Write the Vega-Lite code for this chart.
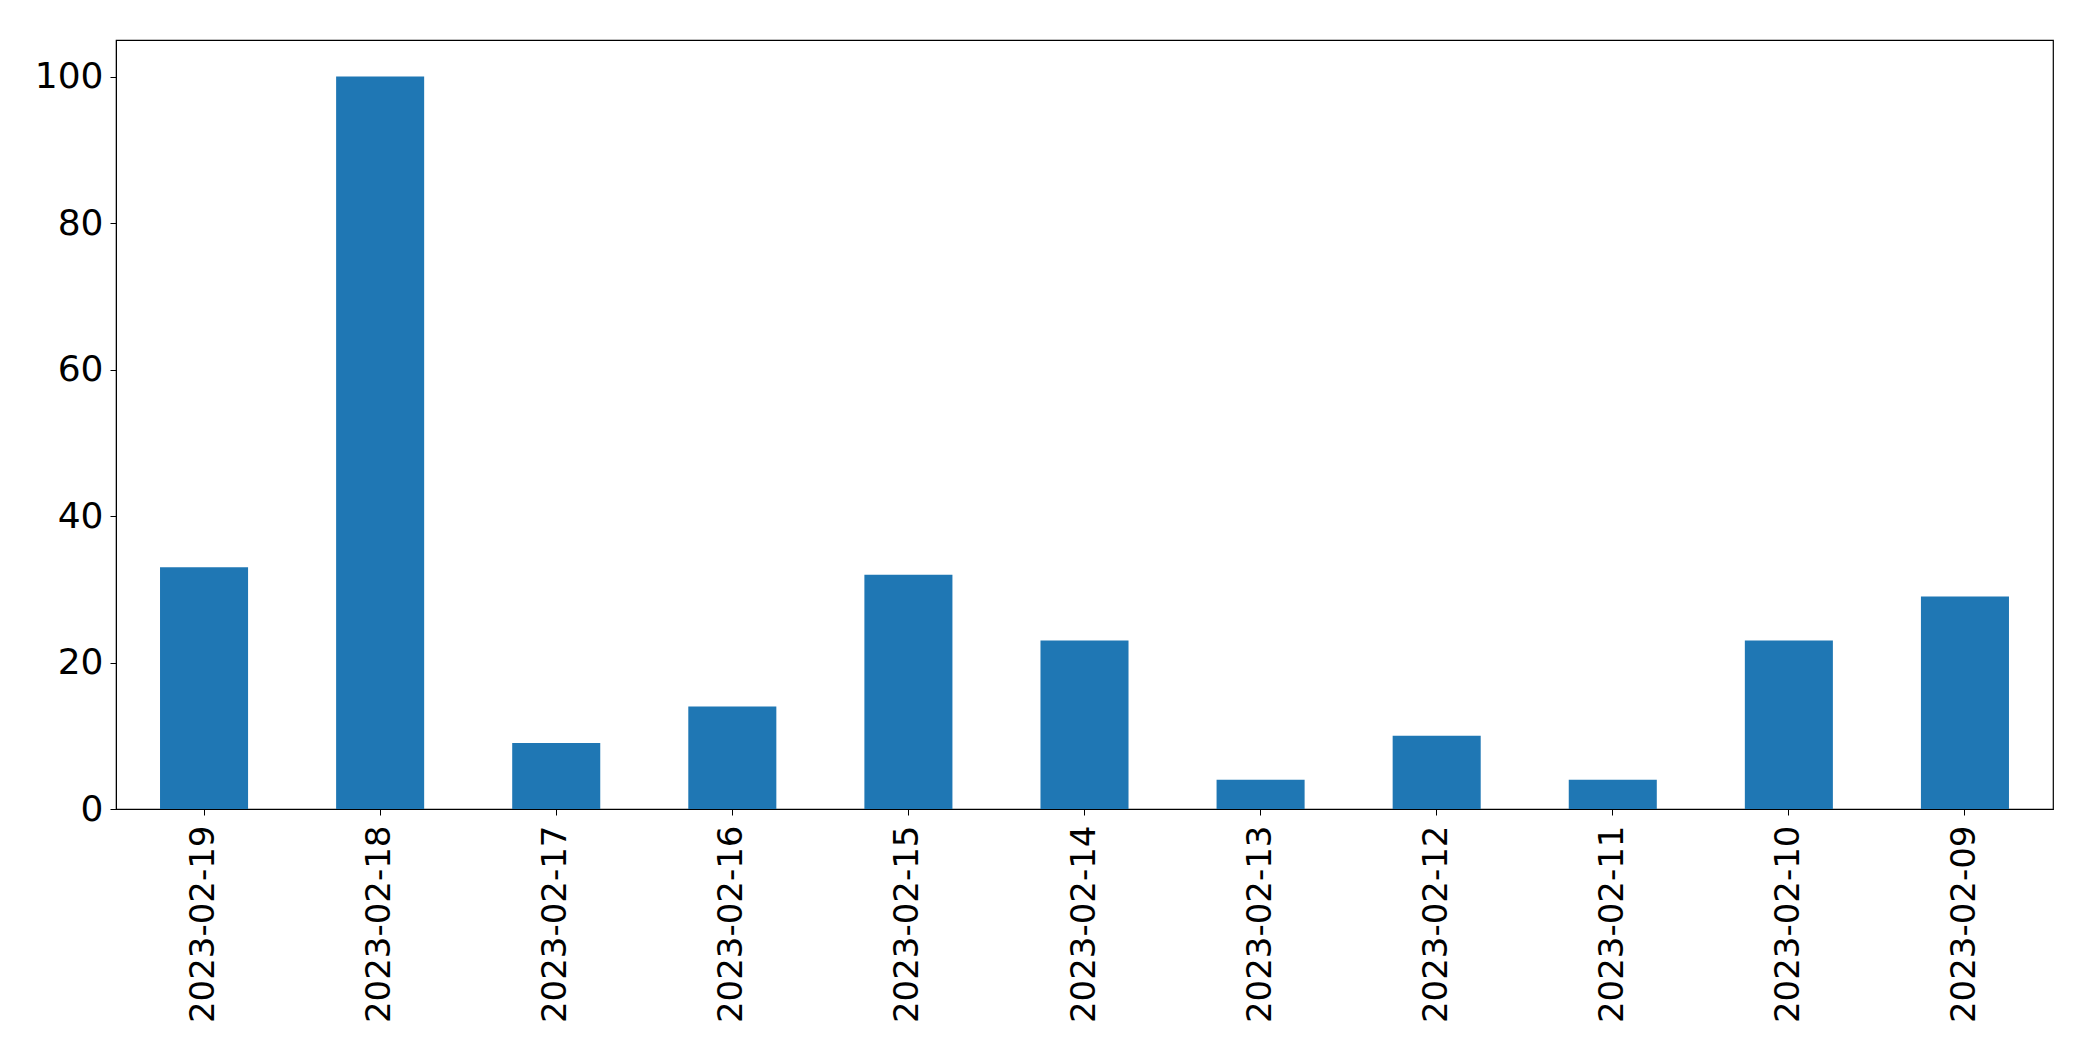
{
  "$schema": "https://vega.github.io/schema/vega-lite/v6.json",
  "width": 1937,
  "height": 769,
  "autosize": {"type": "none"},
  "padding": {"left": 116, "top": 40, "right": 40, "bottom": 252},
  "background": "white",
  "config": {
    "view": {"stroke": "black", "strokeWidth": 1.2},
    "axis": {
      "labelFont": "DejaVu Sans",
      "labelColor": "black",
      "domainColor": "black",
      "tickColor": "black",
      "tickSize": 6,
      "grid": false,
      "title": null,
      "labelLimit": 0
    }
  },
  "data": {
    "values": [
      {"date": "2023-02-19", "count": 33},
      {"date": "2023-02-18", "count": 100},
      {"date": "2023-02-17", "count": 9},
      {"date": "2023-02-16", "count": 14},
      {"date": "2023-02-15", "count": 32},
      {"date": "2023-02-14", "count": 23},
      {"date": "2023-02-13", "count": 4},
      {"date": "2023-02-12", "count": 10},
      {"date": "2023-02-11", "count": 4},
      {"date": "2023-02-10", "count": 23},
      {"date": "2023-02-09", "count": 29}
    ]
  },
  "mark": {"type": "bar", "color": "#1f77b4"},
  "encoding": {
    "x": {
      "field": "date",
      "type": "nominal",
      "sort": null,
      "scale": {"paddingInner": 0.5, "paddingOuter": 0.25},
      "axis": {"labelAngle": -90, "labelPadding": 10, "labelFontSize": 34}
    },
    "y": {
      "field": "count",
      "type": "quantitative",
      "scale": {"domain": [0, 105], "nice": false},
      "axis": {"values": [0, 20, 40, 60, 80, 100], "labelPadding": 7, "labelFontSize": 36}
    }
  }
}
